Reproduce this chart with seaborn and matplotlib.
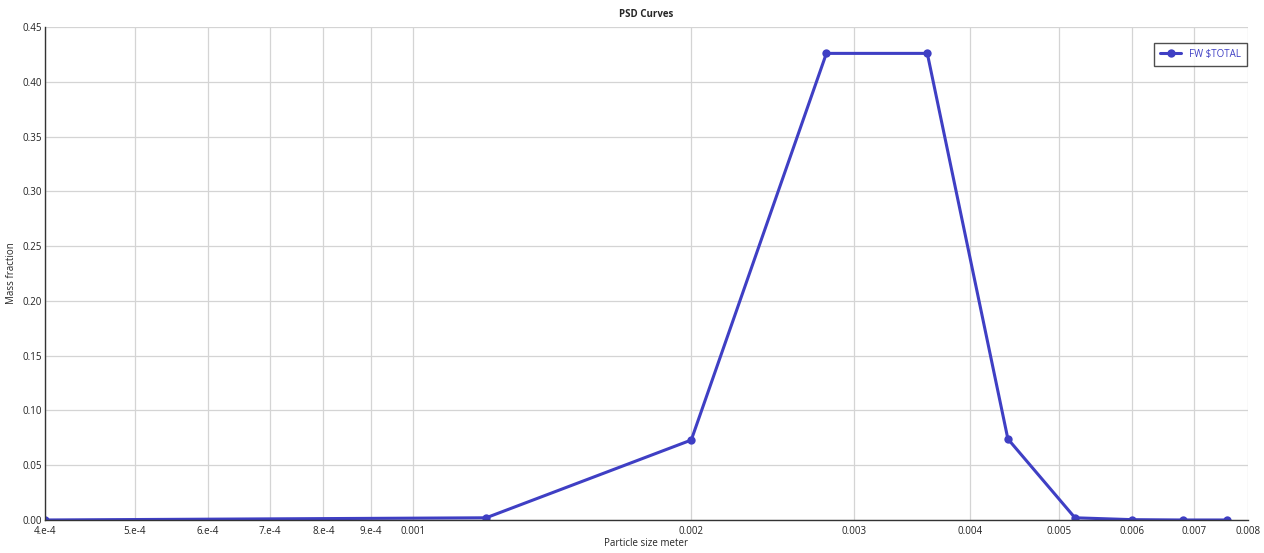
import matplotlib
matplotlib.use("Agg")
import matplotlib.pyplot as plt
from matplotlib.ticker import FixedLocator, NullLocator
import seaborn as sns
import pandas as pd

# values
particle_size = [0.0004, 0.0012, 0.002, 0.0028, 0.0036, 0.0044, 0.0052, 0.006, 0.0068, 0.0076]
mass_fraction = [0.0, 0.002, 0.073, 0.426, 0.426, 0.074, 0.002, 0.0003, 0.0, 0.0]
series_name = "FW $TOTAL"

x_ticks = [4e-4, 5e-4, 6e-4, 7e-4, 8e-4, 9e-4, 0.001, 0.002, 0.003, 0.004, 0.005, 0.006, 0.007, 0.008]
x_tick_labels = ["4.e-4", "5.e-4", "6.e-4", "7.e-4", "8.e-4", "9.e-4", "0.001",
                 "0.002", "0.003", "0.004", "0.005", "0.006", "0.007", "0.008"]
y_ticks = [0.0, 0.05, 0.10, 0.15, 0.20, 0.25, 0.30, 0.35, 0.40, 0.45]

sns.set_theme(style="white")
plt.rcParams["font.family"] = ["Open Sans", "DejaVu Sans"]

df = pd.DataFrame({"size": particle_size, "fraction": mass_fraction, "series": series_name})

fig = plt.figure(figsize=(12.64, 5.53), dpi=100)
ax = fig.add_axes([0.0356, 0.0597, 0.9517, 0.8913])

line_color = "#3f3fc4"
sns.lineplot(data=df, x="size", y="fraction", hue="series", palette=[line_color],
             marker="o", markersize=6, markeredgewidth=0, linewidth=2.2, ax=ax)

ax.set_xscale("log")
ax.set_xlim(4e-4, 0.008)
ax.set_ylim(0, 0.45)
ax.xaxis.set_major_locator(FixedLocator(x_ticks))
ax.xaxis.set_minor_locator(NullLocator())
ax.set_xticklabels(x_tick_labels)
ax.set_yticks(y_ticks)
ax.set_yticklabels([f"{v:.2f}" for v in y_ticks])

ax.grid(True, color="#d4d4d4", linewidth=0.9)
ax.tick_params(axis="both", labelsize=7, colors="#222222", length=3, direction="in")
ax.tick_params(axis="x", pad=4)
ax.tick_params(axis="y", pad=2)
for side in ["top", "right"]:
    ax.spines[side].set_visible(False)
for side in ["left", "bottom"]:
    ax.spines[side].set_color("#333333")
    ax.spines[side].set_linewidth(1.0)

ax.set_xlabel("Particle size meter", fontsize=7, labelpad=1)
ax.set_ylabel("Mass fraction", fontsize=7, labelpad=4)
ax.set_title("PSD Curves", fontsize=7, fontweight="bold", pad=7)

leg = ax.legend(loc="upper right", bbox_to_anchor=(1.0, 0.97), fontsize=7, frameon=True,
                fancybox=False, handlelength=2.2, borderpad=0.6, borderaxespad=0.1)
leg.get_frame().set_edgecolor("#222222")
leg.get_frame().set_linewidth(1.0)
for t in leg.get_texts():
    t.set_color(line_color)

fig.savefig("out.png", dpi=100)
